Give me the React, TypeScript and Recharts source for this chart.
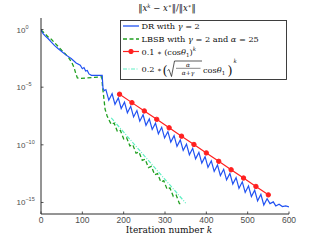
import { Legend, Line, LineChart, XAxis, YAxis } from 'recharts'

const AXIS = '#2b2b2b'
const TICK_TEXT = '#4d4d4d'
const SERIF = 'DejaVu Serif'

const DR_COLOR = '#2152f2'
const LBSB_COLOR = '#1f9f1f'
const RATE1_COLOR = '#ff2020'
const RATE2_COLOR = '#5ff0c4'

// iteration numbers and log10 of ||x^k - x*|| / ||x*||
const drIter = [
  0, 5, 10, 17, 25, 33, 41, 50, 60, 73, 85, 95, 100, 104, 108, 112, 116, 122, 148, 150, 153,
  157, 164, 172, 179, 187, 194, 202, 209, 217, 224, 232, 239, 247, 254, 262, 269, 277, 284,
  292, 299, 307, 314, 322, 329, 337, 344, 352, 359, 367, 374, 382, 389, 397, 404, 412, 419,
  427, 434, 442, 449, 457, 464, 472, 479, 487, 494, 502, 509, 517, 524, 532, 539, 547, 554,
  562, 568, 576, 584, 592, 600,
]
const drLog = [
  -0.05, -0.35, -0.55, -0.78, -1.1, -1.4, -1.65, -1.9, -2.2, -2.52, -2.9, -3.1, -3.4, -3.3,
  -3.6, -3.55, -3.85, -3.97, -3.97, -5.1, -5.3,
  -5.21, -6.13, -5.57, -6.49, -5.93, -6.85, -6.3, -7.22, -6.66, -7.58, -7.03, -7.95, -7.39,
  -8.31, -7.75, -8.67, -8.12, -9.04, -8.48, -9.4, -8.85, -9.76, -9.21, -10.13, -9.57, -10.49,
  -9.94, -10.86, -10.3, -11.22, -10.66, -11.58, -11.03, -11.95, -11.39, -12.31, -11.75,
  -12.67, -12.12, -13.04, -12.48, -13.4, -12.85, -13.77, -13.21, -14.13, -13.57, -14.49,
  -13.94, -14.86, -14.3, -15.22, -14.67, -15.1, -14.95, -15.3, -15.15, -15.35, -15.3, -15.38,
]

const lbsbIter = [
  0, 8, 16, 25, 33, 41, 50, 60, 68, 75, 80, 84, 88, 94, 110, 130, 147, 149, 151, 155, 160,
  163, 170, 177, 185, 192, 200, 207, 215, 222, 230, 237, 245, 252, 260, 267, 275, 282, 290,
  297, 305, 312, 320, 327, 335, 340,
]
const lbsbLog = [
  -0.05, -0.3, -0.6, -0.85, -1.15, -1.45, -1.8, -2.15, -2.5, -2.9, -3.3, -3.8, -4.2, -4.25,
  -4.2, -4.15, -4.1, -5.0, -5.6, -6.9, -7.5,
  -7.74, -8.23, -8.12, -8.86, -8.75, -9.48, -9.37, -10.1, -9.99, -10.73, -10.62, -11.35,
  -11.24, -11.98, -11.87, -12.6, -12.49, -13.22, -13.11, -13.85, -13.74, -14.47, -14.36,
  -15.1, -15.1,
]

const rate1Iter = [190, 220, 250, 280, 310, 340, 370, 400, 430, 460, 490, 520, 550]
const rate1Log = [
  -5.61, -6.34, -7.06, -7.79, -8.52, -9.25, -9.97, -10.7, -11.43, -12.16, -12.88, -13.61, -14.34,
]

const rate2Iter = [170, 200, 250, 300, 350]
const rate2Log = [-7.67, -8.9, -10.95, -13.0, -15.05]

const xTicks = [0, 100, 200, 300, 400, 500, 600]
const yTicks = [1, 1e-5, 1e-10, 1e-15]

const toRows = (iters: number[], logs: number[]) =>
  iters.map((k, i) => ({ k, err: Math.pow(10, logs[i]) }))

const drData = toRows(drIter, drLog)
const lbsbData = toRows(lbsbIter, lbsbLog)
const rate1Data = toRows(rate1Iter, rate1Log)
const rate2Data = toRows(rate2Iter, rate2Log)

const BottomTick = ({ x, y, payload }: any) => (
  <g>
    <line x1={x} x2={x} y1={y} y2={y - 2.5} stroke={AXIS} strokeWidth={0.8} />
    <text
      x={x}
      y={y + 9}
      textAnchor="middle"
      fontFamily="Liberation Sans"
      fontSize={8.5}
      fill={TICK_TEXT}
    >
      {payload.value}
    </text>
  </g>
)

const TopTick = ({ x, y }: any) => (
  <line x1={x} x2={x} y1={y} y2={y + 2.5} stroke={AXIS} strokeWidth={0.8} />
)

const LeftTick = ({ x, y, payload }: any) => {
  const exp = Math.round(Math.log10(payload.value))
  return (
    <g>
      <line x1={x} x2={x + 2.5} y1={y} y2={y} stroke={AXIS} strokeWidth={0.8} />
      <text x={x - 24.5} y={y + 3} fontFamily="Liberation Sans" fontSize={8} fill={TICK_TEXT}>
        10
        <tspan dy={-4} fontSize={5.5}>
          {exp === 0 ? '0' : `\u2212${-exp}`}
        </tspan>
      </text>
    </g>
  )
}

const RightTick = ({ x, y }: any) => (
  <line x1={x} x2={x - 2.5} y1={y} y2={y} stroke={AXIS} strokeWidth={0.8} />
)

// title above the box and x label below it
const AxisTexts = ({ viewBox }: any) => {
  const cx = viewBox.x + viewBox.width / 2
  return (
    <g>
      <text x={cx + 2} y={11} textAnchor="middle" fontFamily={SERIF} fontSize={8.5} fill="#111">
        ‖<tspan fontStyle="italic">x</tspan>
        <tspan dy={-3.5} fontSize={5.5} fontStyle="italic">k</tspan>
        <tspan dy={3.5}> − </tspan>
        <tspan fontStyle="italic">x</tspan>
        <tspan dy={-3.5} fontSize={5.5}>∗</tspan>
        <tspan dy={3.5}>‖/‖</tspan>
        <tspan fontStyle="italic">x</tspan>
        <tspan dy={-3.5} fontSize={5.5}>∗</tspan>
        <tspan dy={3.5}>‖</tspan>
      </text>
      <text x={cx + 4} y={233} textAnchor="middle" fontFamily={SERIF} fontSize={9} fill="#111">
        Iteration number <tspan fontStyle="italic">k</tspan>
      </text>
    </g>
  )
}

const rowText = { fontFamily: SERIF, fontSize: 8.2, fill: '#111' }
const it = { fontStyle: 'italic' as const }

const LegendBox = () => (
  <svg width={167} height={60} style={{ display: 'block' }}>
    <rect x={0.5} y={0.5} width={166} height={59} fill="#fff" stroke={AXIS} strokeWidth={0.9} />
    {/* DR */}
    <line x1={3} x2={19} y1={6} y2={6} stroke={DR_COLOR} strokeWidth={1.3} />
    <text x={21.5} y={9} {...rowText}>
      DR with <tspan {...it}>γ</tspan> = 2
    </text>
    {/* LBSB */}
    <line x1={3} x2={19} y1={19} y2={19} stroke={LBSB_COLOR} strokeWidth={1.3} strokeDasharray="4 2.5" />
    <text x={21.5} y={22} {...rowText}>
      LBSB with <tspan {...it}>γ</tspan> = 2 and <tspan {...it}>α</tspan> = 25
    </text>
    {/* 0.1 * (cos theta_1)^k */}
    <line x1={3} x2={19} y1={31.5} y2={31.5} stroke={RATE1_COLOR} strokeWidth={1.2} />
    <circle cx={11} cy={31.5} r={2.2} fill={RATE1_COLOR} stroke={RATE1_COLOR} />
    <text x={21.5} y={34.5} {...rowText}>
      0.1 <tspan fontSize={6.5}>∗</tspan> (cos<tspan {...it}>θ</tspan>
      <tspan dy={2} fontSize={5.5}>1</tspan>
      <tspan dy={-2}>)</tspan>
      <tspan dy={-4} fontSize={5.5} {...it}>k</tspan>
    </text>
    {/* 0.2 * (sqrt(a/(a+g)) cos theta_1)^k */}
    <line x1={3} x2={19} y1={49} y2={49} stroke={RATE2_COLOR} strokeWidth={1.2} strokeDasharray="4 1.5 1 1.5" />
    <text x={21.5} y={52} {...rowText}>
      0.2 <tspan fontSize={6.5}>∗</tspan>
    </text>
    <text x={42.5} y={55} {...rowText} fontSize={13} fontWeight={300}>
      (
    </text>
    <path d="M47.5 50.5 L49 49.5 L51.5 56.5 L54.5 41 L82 41" fill="none" stroke="#111" strokeWidth={0.7} />
    <text x={68} y={46.5} textAnchor="middle" fontFamily={SERIF} fontSize={6} fill="#111" {...it}>
      α
    </text>
    <line x1={56} x2={80.5} y1={48.3} y2={48.3} stroke="#111" strokeWidth={0.5} />
    <text x={68} y={55} textAnchor="middle" fontFamily={SERIF} fontSize={6} fill="#111">
      <tspan {...it}>α</tspan>+<tspan {...it}>γ</tspan>
    </text>
    <text x={83} y={53} {...rowText}>
      cos<tspan {...it}>θ</tspan>
      <tspan dy={2} fontSize={5.5}>1</tspan>
    </text>
    <text x={107.5} y={55} {...rowText} fontSize={13} fontWeight={300}>
      )
    </text>
    <text x={113.5} y={42.5} fontFamily={SERIF} fontSize={5.5} fill="#111" {...it}>
      k
    </text>
  </svg>
)

export default function App() {
  return (
    <div style={{ position: 'absolute', left: 0, top: 0, background: '#fff' }}>
      <LineChart width={320} height={241} margin={{ top: 18, right: 31, bottom: 0, left: 11 }}>
        <XAxis
          xAxisId="bottom"
          dataKey="k"
          type="number"
          domain={[0, 600]}
          ticks={xTicks}
          allowDataOverflow
          height={27}
          stroke={AXIS}
          tickSize={0}
          tickMargin={0}
          tick={<BottomTick />}
          label={{ content: <AxisTexts /> }}
        />
        <XAxis
          xAxisId="top"
          orientation="top"
          dataKey="k"
          type="number"
          domain={[0, 600]}
          ticks={xTicks}
          allowDataOverflow
          height={0}
          stroke={AXIS}
          tickSize={0}
          tickMargin={0}
          tick={<TopTick />}
        />
        <YAxis
          yAxisId="left"
          type="number"
          scale="log"
          domain={[1e-16, 10]}
          ticks={yTicks}
          allowDataOverflow
          width={30}
          stroke={AXIS}
          tickSize={0}
          tickMargin={0}
          tick={<LeftTick />}
        />
        <YAxis
          yAxisId="right"
          orientation="right"
          type="number"
          scale="log"
          domain={[1e-16, 10]}
          ticks={yTicks}
          allowDataOverflow
          width={0}
          stroke={AXIS}
          tickSize={0}
          tickMargin={0}
          tick={<RightTick />}
        />
        <Legend
          layout="horizontal"
          verticalAlign="middle"
          align="center"
          wrapperStyle={{ position: 'absolute', left: 120, top: 20, width: 167, height: 60 }}
          content={<LegendBox />}
        />
        {/* invisible series so the top and right box axes get drawn */}
        <Line
          xAxisId="top"
          yAxisId="right"
          data={rate2Data}
          dataKey="err"
          stroke="none"
          dot={false}
          activeDot={false}
          legendType="none"
          isAnimationActive={false}
        />
        <Line
          xAxisId="bottom"
          yAxisId="left"
          data={rate2Data}
          dataKey="err"
          name="rate2"
          stroke={RATE2_COLOR}
          strokeWidth={1.2}
          strokeDasharray="4 1.5 1 1.5"
          dot={false}
          isAnimationActive={false}
        />
        <Line
          xAxisId="bottom"
          yAxisId="left"
          data={lbsbData}
          dataKey="err"
          name="LBSB"
          stroke={LBSB_COLOR}
          strokeWidth={1.3}
          strokeDasharray="4 2.5"
          dot={false}
          isAnimationActive={false}
        />
        <Line
          xAxisId="bottom"
          yAxisId="left"
          data={drData}
          dataKey="err"
          name="DR"
          stroke={DR_COLOR}
          strokeWidth={1.2}
          dot={false}
          isAnimationActive={false}
        />
        <Line
          xAxisId="bottom"
          yAxisId="left"
          data={rate1Data}
          dataKey="err"
          name="rate1"
          stroke={RATE1_COLOR}
          strokeWidth={1.2}
          dot={{ r: 2.2, fill: RATE1_COLOR, stroke: RATE1_COLOR, strokeWidth: 1 }}
          isAnimationActive={false}
        />
      </LineChart>
    </div>
  )
}
